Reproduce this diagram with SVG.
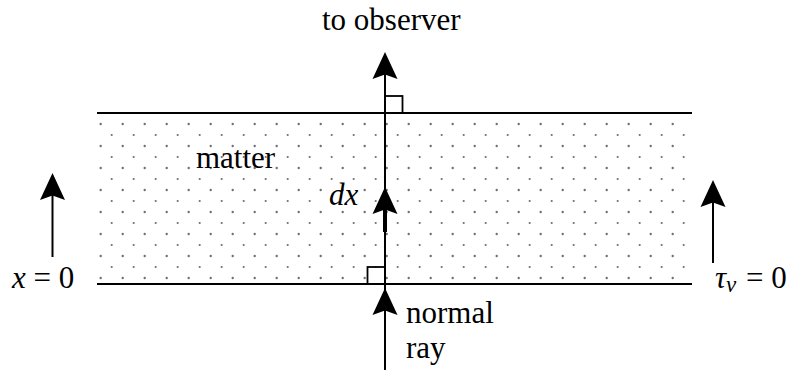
<svg xmlns="http://www.w3.org/2000/svg" width="789" height="370" viewBox="0 0 789 370">
<style>
  .ln{stroke:#000;stroke-width:2;fill:none}
  .sq{stroke:#000;stroke-width:1.8;fill:none}
  .ah{fill:#000;stroke:none}
  .t{font-family:"Liberation Serif",Tinos,"Times New Roman","DejaVu Serif",serif;font-size:31px;fill:#000}
  .i{font-style:italic}
</style>
<defs>
  <pattern id="dots" patternUnits="userSpaceOnUse" x="0" y="0" width="22" height="22">
    <circle cx="12.7" cy="14" r="1.2" fill="#707070"/>
    <circle cx="1.7" cy="3" r="1.1" fill="#707070"/>
  </pattern>
  <path id="head" d="M0,0 L-12.5,27 L0,22.5 L12.5,27 Z"/>
</defs>
<rect width="789" height="370" fill="#fff"/>

<g id="matter">
  <rect x="97" y="113" width="595" height="171" fill="url(#dots)"/>
  <line class="ln" x1="97" y1="113" x2="692" y2="113"/>
  <line class="ln" x1="97" y1="284" x2="692" y2="284"/>
  <text class="t" x="196" y="168">matter</text>
</g>

<g id="right-angle-top">
  <rect class="sq" x="385" y="96" width="17.5" height="17"/>
</g>
<g id="right-angle-bottom">
  <rect class="sq" x="367.5" y="267" width="17.5" height="17"/>
</g>

<g id="label-observer"><text class="t" x="322" y="30">to observer</text></g>
<g id="label-normal"><text class="t" x="406" y="323" font-size="30">normal</text><text class="t" x="406" y="358" font-size="30">ray</text></g>
<g id="label-dx"><text class="t i" x="329" y="205">dx</text></g>
<g id="label-x0"><text class="t" x="12" y="288"><tspan class="i">x</tspan> = 0</text></g>
<g id="label-tau0"><text class="t" x="715" y="288"><tspan class="i">τ</tspan><tspan class="i" font-size="23" dy="4">ν</tspan><tspan dy="-4" dx="2"> = 0</tspan></text></g>

<g id="connectors">
  <line class="ln" x1="385" y1="60" x2="385" y2="370"/>
  <use href="#head" class="ah" x="385" y="52"/>
  <line x1="385" y1="205" x2="385" y2="232" stroke="#000" stroke-width="4"/>
  <use href="#head" class="ah" x="385" y="187"/>
  <use href="#head" class="ah" x="385" y="288"/>
  <line class="ln" x1="52.5" y1="195" x2="52.5" y2="257"/>
  <use href="#head" class="ah" x="52.5" y="173"/>
  <line class="ln" x1="713" y1="202" x2="713" y2="263"/>
  <use href="#head" class="ah" x="713" y="180"/>
</g>
</svg>
